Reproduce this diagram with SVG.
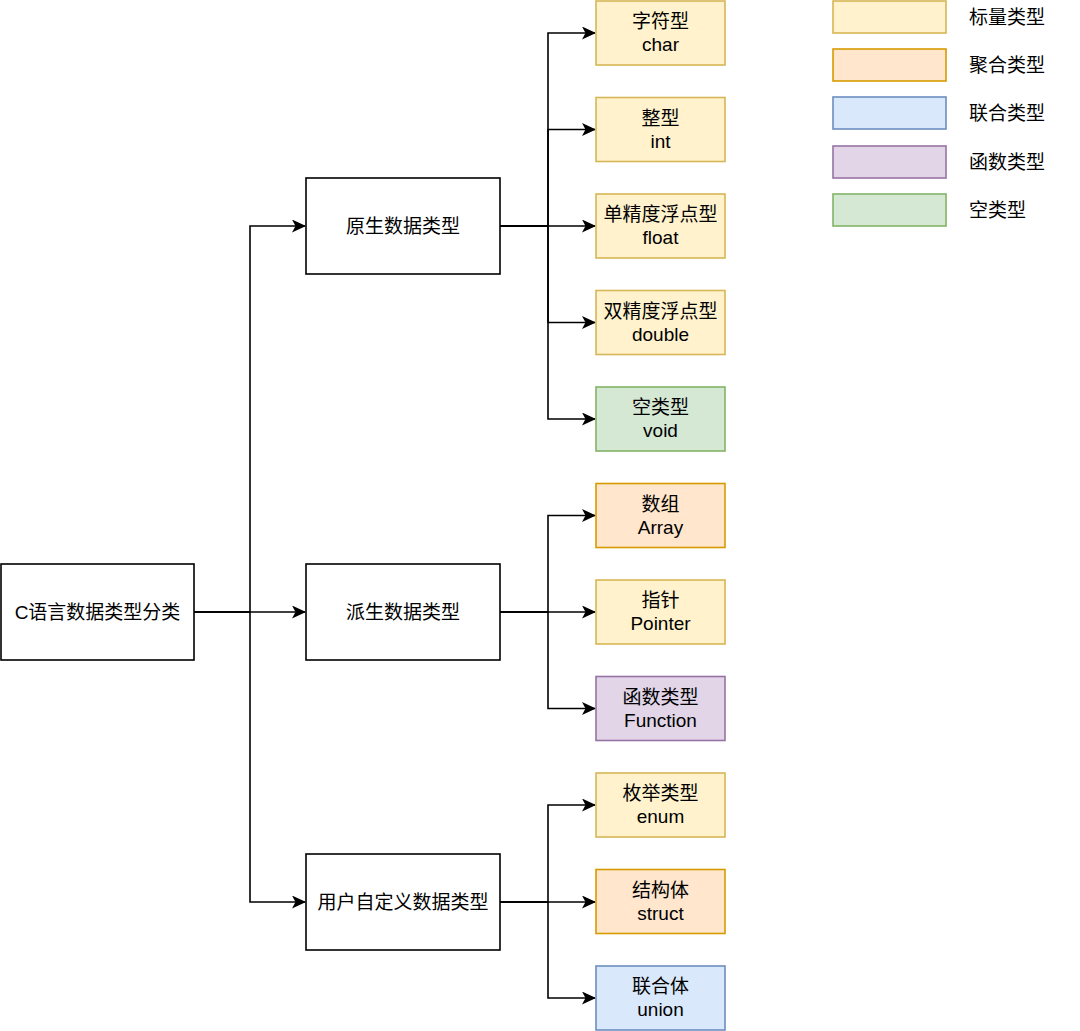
<svg xmlns="http://www.w3.org/2000/svg" width="1080" height="1031" viewBox="0 0 1080 1031">
<style>
text{font-family:"Liberation Sans","Noto Sans CJK SC",sans-serif;font-size:19px;fill:#000;text-anchor:middle;dominant-baseline:central}
.box{fill:#fff;stroke:#000;stroke-width:1.6}
.sc{fill:#fff2cc;stroke:#d6b656;stroke-width:1.6}
.ag{fill:#ffe6cc;stroke:#d79b00;stroke-width:1.6}
.un{fill:#dae8fc;stroke:#6c8ebf;stroke-width:1.6}
.fn{fill:#e1d5e7;stroke:#9673a6;stroke-width:1.6}
.vd{fill:#d5e8d4;stroke:#82b366;stroke-width:1.6}
.lg{text-anchor:start}
#connectors path{fill:none;stroke:#000;stroke-width:1.6;marker-end:url(#ah)}
</style>
<defs>
<marker id="ah" viewBox="0 0 14 13" refX="13" refY="6.5" markerWidth="14" markerHeight="13" markerUnits="userSpaceOnUse" orient="auto">
<path d="M0,0 L14,6.5 L0,13 L3.5,6.5 Z" fill="#000"/>
</marker>
</defs>
<rect width="1080" height="1031" fill="#fff"/>
<g id="connectors">
<path d="M194,612 H305"/>
<path d="M194,612 H250 V226 H305"/>
<path d="M194,612 H250 V902 H305"/>
<path d="M500,226 H548 V33 H595"/>
<path d="M500,226 H548 V129.5 H595"/>
<path d="M500,226 H595"/>
<path d="M500,226 H548 V322.5 H595"/>
<path d="M500,226 H548 V419 H595"/>
<path d="M500,612 H548 V515.5 H595"/>
<path d="M500,612 H595"/>
<path d="M500,612 H548 V708.5 H595"/>
<path d="M500,902 H548 V805 H595"/>
<path d="M500,902 H595"/>
<path d="M500,902 H548 V998 H595"/>
</g>
<g id="root"><rect class="box" x="1" y="564" width="193" height="96"/><text x="97.5" y="612">C语言数据类型分类</text></g>
<g id="primitive"><rect class="box" x="306" y="178" width="194" height="96"/><text x="403" y="226">原生数据类型</text></g>
<g id="derived"><rect class="box" x="306" y="564" width="194" height="96"/><text x="403" y="612">派生数据类型</text></g>
<g id="userdef"><rect class="box" x="306" y="854" width="194" height="96"/><text x="403" y="902">用户自定义数据类型</text></g>
<g id="char"><rect class="sc" x="596" y="1" width="129" height="64"/><text x="660.5" y="21.5">字符型</text><text x="660.5" y="44.5">char</text></g>
<g id="int"><rect class="sc" x="596" y="97.5" width="129" height="64"/><text x="660.5" y="118">整型</text><text x="660.5" y="141">int</text></g>
<g id="float"><rect class="sc" x="596" y="194" width="129" height="64"/><text x="660.5" y="214.5">单精度浮点型</text><text x="660.5" y="237.5">float</text></g>
<g id="double"><rect class="sc" x="596" y="290.5" width="129" height="64"/><text x="660.5" y="311">双精度浮点型</text><text x="660.5" y="334">double</text></g>
<g id="void"><rect class="vd" x="596" y="387" width="129" height="64"/><text x="660.5" y="407.5">空类型</text><text x="660.5" y="430.5">void</text></g>
<g id="array"><rect class="ag" x="596" y="483.5" width="129" height="64"/><text x="660.5" y="504">数组</text><text x="660.5" y="527">Array</text></g>
<g id="pointer"><rect class="sc" x="596" y="580" width="129" height="64"/><text x="660.5" y="600.5">指针</text><text x="660.5" y="623.5">Pointer</text></g>
<g id="function"><rect class="fn" x="596" y="676.5" width="129" height="64"/><text x="660.5" y="697">函数类型</text><text x="660.5" y="720">Function</text></g>
<g id="enum"><rect class="sc" x="596" y="773" width="129" height="64"/><text x="660.5" y="793.5">枚举类型</text><text x="660.5" y="816.5">enum</text></g>
<g id="struct"><rect class="ag" x="596" y="869.5" width="129" height="64"/><text x="660.5" y="890">结构体</text><text x="660.5" y="913">struct</text></g>
<g id="union"><rect class="un" x="596" y="966" width="129" height="64"/><text x="660.5" y="986.5">联合体</text><text x="660.5" y="1009.5">union</text></g>
<g id="legend">
<g id="lg-scalar"><rect class="sc" x="833" y="1" width="113" height="32"/><text class="lg" x="969" y="17">标量类型</text></g>
<g id="lg-aggregate"><rect class="ag" x="833" y="49" width="113" height="32"/><text class="lg" x="969" y="65">聚合类型</text></g>
<g id="lg-union"><rect class="un" x="833" y="97" width="113" height="32"/><text class="lg" x="969" y="113">联合类型</text></g>
<g id="lg-function"><rect class="fn" x="833" y="146" width="113" height="32"/><text class="lg" x="969" y="162">函数类型</text></g>
<g id="lg-void"><rect class="vd" x="833" y="194" width="113" height="32"/><text class="lg" x="969" y="210">空类型</text></g>
</g>
</svg>
